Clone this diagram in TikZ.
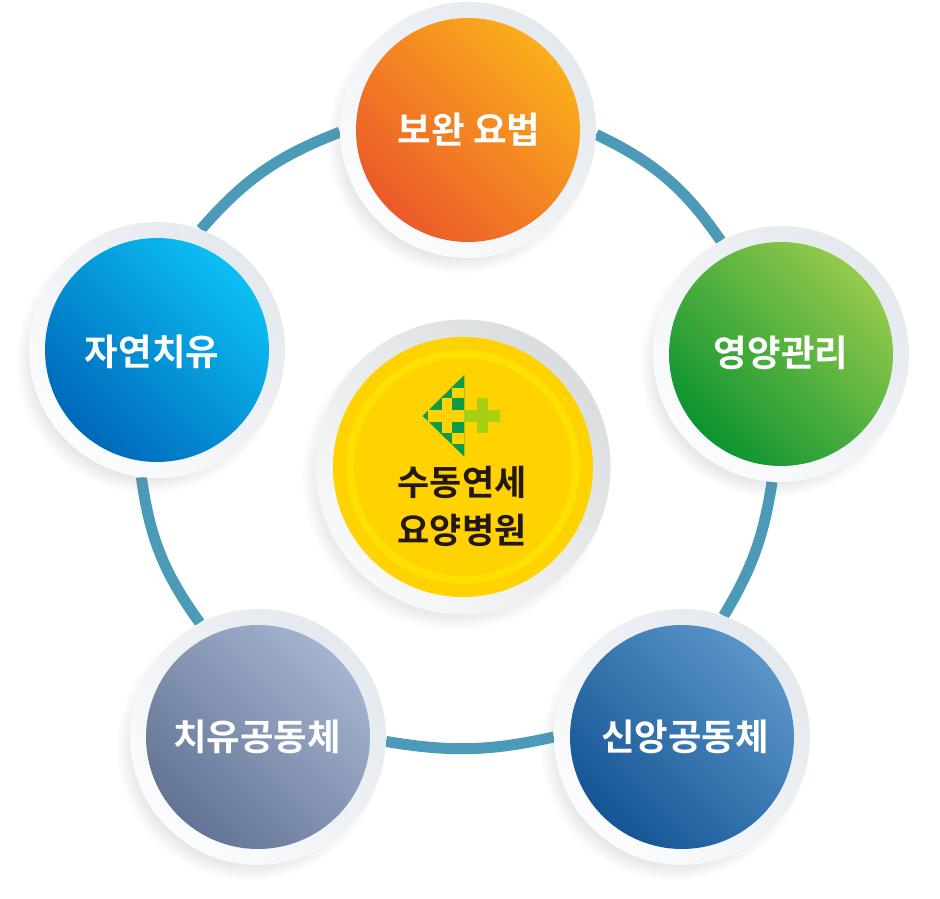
\documentclass[tikz,border=0pt]{standalone}
\usepackage{fontspec}
\setmainfont{Noto Sans CJK KR}[BoldFont=* Bold]
\usetikzlibrary{shadows,fadings,backgrounds}

\definecolor{linkblue}{HTML}{4A9AB8}
\definecolor{hubyellow}{HTML}{FFD200}
\definecolor{hubring}{HTML}{FFE000}
\definecolor{logodark}{HTML}{0B9B4A}
\definecolor{logolight}{HTML}{A9CF12}
\definecolor{hubtext}{HTML}{231815}
\definecolor{rimA}{HTML}{E4E9EE}
\definecolor{rimB}{HTML}{FBFCFD}
\definecolor{hubrimA}{HTML}{DADDDF}
\definecolor{hubrimB}{HTML}{F8F9FA}
\definecolor{orangeA}{HTML}{FBAE1C}
\definecolor{orangeB}{HTML}{EB5A2A}
\definecolor{greenA}{HTML}{95CA4C}
\definecolor{greenB}{HTML}{0C9430}
\definecolor{navyA}{HTML}{5A95C8}
\definecolor{navyB}{HTML}{155595}
\definecolor{slateA}{HTML}{A4B3CF}
\definecolor{slateB}{HTML}{637494}
\definecolor{skyA}{HTML}{0BBFF3}
\definecolor{skyB}{HTML}{0068BA}

\tikzset{
	rim/.style={circle, minimum size=256pt, inner sep=0pt,
		top color=rimA, bottom color=rimB, shading angle=-45,
		circular drop shadow={shadow xshift=-8pt, shadow yshift=-10pt, shadow scale=1.04, opacity=0.22}},
	disc/.style 2 args={circle, minimum size=224pt, inner sep=0pt,
		top color=#1, bottom color=#2, shading angle=-45},
	caption/.style={text=white, font=\bfseries\fontsize{36.5}{44}\selectfont},
	link/.style={line width=11pt, linkblue},
}

\begin{document}
\begin{tikzpicture}[x=1pt, y=1pt]
	\useasboundingbox (0, 0) rectangle (940, 898);
	\coordinate (top) at (468, 768);
	\coordinate (right) at (781, 544);
	\coordinate (lowright) at (682, 161);
	\coordinate (lowleft) at (258, 161);
	\coordinate (left) at (157, 548);
	\coordinate (hub) at (463, 431);

	% outer rims
	\node[rim] (topRim) at (top) {};
	\node[rim] (rightRim) at (right) {};
	\node[rim] (lowrightRim) at (lowright) {};
	\node[rim] (lowleftRim) at (lowleft) {};
	\node[rim] (leftRim) at (left) {};
	\node[rim, minimum size=295pt, top color=hubrimA, bottom color=hubrimB, shading angle=-45] (hubRim) at (hub) {};

	% connecting arcs
	\begin{scope}[on background layer]
		\draw[link] (topRim.-2) to[bend left=15] (rightRim.118);
		\draw[link] (rightRim.-94) to[bend left=11] (lowrightRim.71);
		\draw[link] (lowrightRim.180) to[bend left=11] (lowleftRim.-2);
		\draw[link] (lowleftRim.117) to[bend left=14] (leftRim.-97);
		\draw[link] (leftRim.70) to[bend left=14] (topRim.181);
	\end{scope}

	% discs
	\node[disc={orangeA}{orangeB}] (topDisc) at (top) {};
	\node[disc={greenA}{greenB}] (rightDisc) at (right) {};
	\node[disc={navyA}{navyB}] (lowrightDisc) at (lowright) {};
	\node[disc={slateA}{slateB}] (lowleftDisc) at (lowleft) {};
	\node[disc={skyA}{skyB}] (leftDisc) at (left) {};
	\node[circle, minimum size=260pt, inner sep=0pt, fill=hubyellow] (hubDisc) at (hub) {};
	\node[circle, minimum size=226pt, inner sep=0pt, draw=hubring, line width=8pt] (hubBand) at (hub) {};

	% labels
	\node[caption] (topLabel) at (469, 768) {보완 요법};
	\node[caption] (rightLabel) at (781, 545) {영양관리};
	\node[caption] (lowrightLabel) at (685, 161) {신앙공동체};
	\node[caption] (lowleftLabel) at (257, 161) {치유공동체};
	\node[caption] (leftLabel) at (152, 546) {자연치유};
	\node[text=hubtext, align=center, font=\bfseries\fontsize{35}{48}\selectfont] (hubLabel) at (462, 392) {수동연세\\요양병원};

	% logo, drawn on a grid of its own
	\begin{scope}[shift={(410, 533)}, x=0.3333pt, y=-0.3333pt]
		\fill[logodark] (38, 153) -- (163, 30) -- (163, 275) -- cycle;
		\fill[hubyellow] (126, 68) rectangle (163, 100);
		\fill[hubyellow] (95, 100) rectangle (126, 135);
		\fill[hubyellow] (55, 135) rectangle (163, 170);
		\fill[hubyellow] (95, 170) rectangle (126, 205);
		\fill[hubyellow] (126, 205) rectangle (163, 237);
		\fill[logolight] (163, 135) rectangle (270, 170);
		\fill[logolight] (200, 100) rectangle (233, 205);
	\end{scope}
\end{tikzpicture}
\end{document}
